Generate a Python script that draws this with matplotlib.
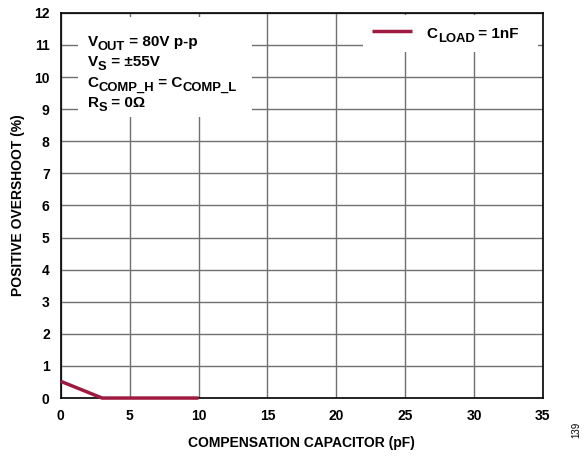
import matplotlib
matplotlib.use("Agg")
import matplotlib.pyplot as plt
from matplotlib.patches import Rectangle
from matplotlib.transforms import offset_copy

plt.rcParams["font.family"] = ["Liberation Sans", "DejaVu Sans"]
plt.rcParams["font.weight"] = "bold"

# data
cap_pf = [0, 3, 10]
overshoot = [0.52, 0, 0]
x_ticks = [0, 5, 10, 15, 20, 25, 30, 35]
y_ticks = list(range(0, 13))

LINE_COLOR = "#9e1a40"

# text pieces: (string, is_subscript)
note_lines = [
    [("V", False), ("OUT", True), (" = 80V p-p", False)],
    [("V", False), ("S", True), (" = ±55V", False)],
    [("C", False), ("COMP_H", True), (" = C", False), ("COMP_L", True)],
    [("R", False), ("S", True), (" = 0Ω", False)],
]
legend_label = [("C", False), ("LOAD", True), (" = 1nF", False)]


def rich_text(ax, x, y, pieces, size=11, sub_scale=0.85, sub_drop=4):
    """Draw text with real subscripts, piece by piece, starting at axes coords (x, y)."""
    renderer = ax.figure.canvas.get_renderer()
    dx = 0
    for s, sub in pieces:
        fs = size * sub_scale if sub else size
        dy = -sub_drop if sub else 0
        tr = offset_copy(ax.transAxes, fig=ax.figure, x=dx, y=dy, units="dots")
        t = ax.text(x, y, s, transform=tr, fontsize=fs, fontweight="bold",
                    va="baseline", ha="left", zorder=6)
        dx += t.get_window_extent(renderer).width


fig = plt.figure(figsize=(5.85, 4.57), dpi=100)
ax = fig.add_axes([0.104, 0.129, 0.824, 0.843])

ax.plot(cap_pf, overshoot, color=LINE_COLOR, linewidth=2.5,
        solid_capstyle="butt", zorder=3, clip_on=False)

ax.set_xlim(0, 35)
ax.set_ylim(0, 12)
ax.set_xticks(x_ticks)
ax.set_yticks(y_ticks)
ax.grid(True, color="#707070", linewidth=1.0)
ax.tick_params(length=0, labelsize=10, pad=8)
for s in ax.spines.values():
    s.set_linewidth(1.2)
    s.set_color("black")

ax.set_xlabel("COMPENSATION CAPACITOR (pF)", fontsize=10, fontweight="bold", labelpad=9)
ax.set_ylabel("POSITIVE OVERSHOOT (%)", fontsize=10, fontweight="bold", labelpad=7)

# ── condition note box ───────────────────────────────────────────
ax.add_patch(Rectangle((0.035, 0.73), 0.361, 0.26, transform=ax.transAxes,
                       facecolor="white", edgecolor="none", zorder=4))
for i, pieces in enumerate(note_lines):
    rich_text(ax, 0.056, 0.914 - i * 0.0527, pieces)

# ── legend ───────────────────────────────────────────────────────
ax.add_patch(Rectangle((0.627, 0.899), 0.362, 0.096, transform=ax.transAxes,
                       facecolor="white", edgecolor="none", zorder=4))
ax.plot([0.645, 0.728], [0.954, 0.954], transform=ax.transAxes, color=LINE_COLOR,
        linewidth=2.5, solid_capstyle="butt", zorder=5, clip_on=False)
rich_text(ax, 0.759, 0.934, legend_label)

fig.text(0.985, 0.06, "139", rotation=90, fontsize=7, fontweight="normal",
         ha="center", va="center")

fig.savefig("out.png", dpi=100)
